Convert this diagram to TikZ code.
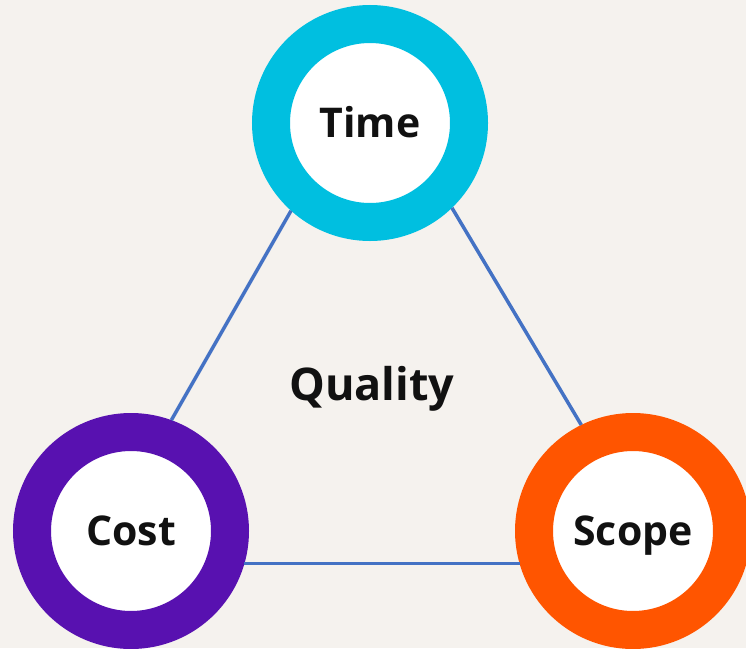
\documentclass[tikz,border=0pt]{standalone}
\usepackage{fontspec}
\newfontfamily\lblfont{Open Sans}
\definecolor{bg}{HTML}{F5F2EE}
\definecolor{timec}{HTML}{00BFE0}
\definecolor{costc}{HTML}{5811B0}
\definecolor{scopec}{HTML}{FF5500}
\definecolor{linec}{HTML}{4472C4}
\definecolor{txt}{HTML}{111111}
\tikzset{
  ring/.style={circle, draw=#1, fill=white, line width=38pt, minimum size=198pt, inner sep=0pt,
    text=txt, text height=29.3pt, text depth=0pt, font=\lblfont\bfseries\fontsize{41}{48}\selectfont},
  edge/.style={draw=linec, line width=3.5pt},
  qlabel/.style={text=txt, inner sep=0pt, text height=32.1pt, text depth=0pt, font=\lblfont\bfseries\fontsize{45}{54}\selectfont}
}
\begin{document}
\begin{tikzpicture}[x=1pt,y=-1pt]
\useasboundingbox (0,0) rectangle (746,648);
\clip (0,0) rectangle (746,648);
\fill[bg] (0,0) rectangle (746,648);
\node[ring=timec] (time) at (370,123) {Time};
\node[ring=costc] (cost) at (131,531) {Cost};
\node[ring=scopec] (scope) at (633,531) {Scope};
\node[qlabel] (quality) at (372,384) {Quality};
\draw[edge] (time.228) -- (cost.70);
\draw[edge] (time.314) -- (scope.116);
\draw[edge] (cost.344) -- (scope.196);
\end{tikzpicture}
\end{document}
